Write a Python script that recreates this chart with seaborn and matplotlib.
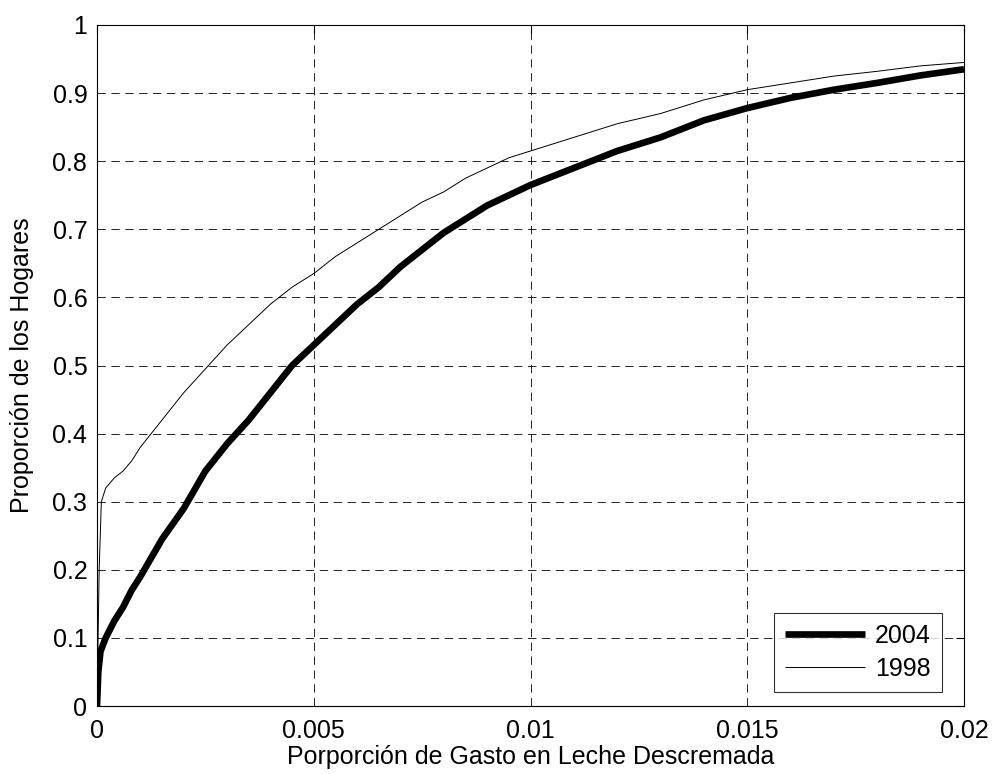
import matplotlib
matplotlib.use("Agg")
import matplotlib.pyplot as plt
import seaborn as sns
import pandas as pd

# Cumulative share of households by skim-milk expenditure share
x_2004 = [0, 0.00003, 0.00008, 0.0002, 0.0004, 0.0006, 0.0008, 0.001, 0.0015, 0.002,
          0.0025, 0.003, 0.0035, 0.004, 0.0045, 0.005, 0.0055, 0.006, 0.0065, 0.007,
          0.0075, 0.008, 0.0085, 0.009, 0.0095, 0.01, 0.011, 0.012, 0.013, 0.014,
          0.015, 0.016, 0.017, 0.018, 0.019, 0.02]
y_2004 = [0, 0.05, 0.08, 0.10, 0.125, 0.145, 0.17, 0.19, 0.245, 0.29,
          0.345, 0.385, 0.42, 0.46, 0.50, 0.53, 0.56, 0.59, 0.615, 0.645,
          0.67, 0.695, 0.715, 0.735, 0.75, 0.765, 0.79, 0.815, 0.835, 0.86,
          0.878, 0.893, 0.905, 0.915, 0.926, 0.935]

x_1998 = [0, 0.00005, 0.0001, 0.0002, 0.0004, 0.0006, 0.0008, 0.001, 0.0015, 0.002,
          0.0025, 0.003, 0.0035, 0.004, 0.0045, 0.005, 0.0055, 0.006, 0.0065, 0.007,
          0.0075, 0.008, 0.0085, 0.009, 0.0095, 0.01, 0.011, 0.012, 0.013, 0.014,
          0.015, 0.016, 0.017, 0.018, 0.019, 0.02]
y_1998 = [0, 0.20, 0.30, 0.32, 0.335, 0.345, 0.36, 0.38, 0.42, 0.46,
          0.495, 0.53, 0.56, 0.59, 0.615, 0.635, 0.66, 0.68, 0.70, 0.72,
          0.74, 0.755, 0.775, 0.79, 0.805, 0.815, 0.835, 0.855, 0.87, 0.89,
          0.905, 0.915, 0.925, 0.932, 0.94, 0.945]

x_ticks = [0, 0.005, 0.01, 0.015, 0.02]
x_tick_labels = ["0", "0.005", "0.01", "0.015", "0.02"]
y_ticks = [0, 0.1, 0.2, 0.3, 0.4, 0.5, 0.6, 0.7, 0.8, 0.9, 1]
y_tick_labels = ["0", "0.1", "0.2", "0.3", "0.4", "0.5", "0.6", "0.7", "0.8", "0.9", "1"]

sns.set_style("white")
plt.rcParams["font.family"] = ["Liberation Sans", "DejaVu Sans"]
plt.rcParams["lines.scale_dashes"] = False
plt.rcParams["text.color"] = "black"
plt.rcParams["axes.labelcolor"] = "black"
plt.rcParams["lines.solid_capstyle"] = "butt"

FS = 18

df04 = pd.DataFrame({"x": x_2004, "y": y_2004})
df98 = pd.DataFrame({"x": x_1998, "y": y_1998})

fig = plt.figure(figsize=(9.93, 7.74), dpi=100)
ax = fig.add_axes([97 / 993, 1 - 706 / 774, (964 - 97) / 993, (706 - 25) / 774])

sns.lineplot(data=df04, x="x", y="y", ax=ax, color="black", linewidth=4.8,
             label="2004", estimator=None, sort=False)
sns.lineplot(data=df98, x="x", y="y", ax=ax, color="black", linewidth=0.7,
             label="1998", estimator=None, sort=False)

ax.set_xlim(0, 0.02)
ax.set_ylim(0, 1)
ax.set_xticks(x_ticks)
ax.set_xticklabels(x_tick_labels)
ax.set_yticks(y_ticks)
ax.set_yticklabels(y_tick_labels)
ax.tick_params(direction="in", length=6, width=0.8, top=True, right=True,
               labelsize=FS, colors="black")
ax.tick_params(axis="y", pad=7)
ax.tick_params(axis="x", pad=9)
ax.grid(True, color="black", linestyle=(0, (6, 4)), linewidth=0.6)
for s in ax.spines.values():
    s.set_color("black")
    s.set_linewidth(0.8)

ax.set_xlabel("Porporción de Gasto en Leche Descremada", fontsize=FS, labelpad=2)
ax.set_ylabel("Proporción de los Hogares", fontsize=FS, labelpad=13)

leg = ax.legend(loc="lower right", fontsize=FS, frameon=True, fancybox=False,
                edgecolor="black", handlelength=3.2, handletextpad=0.4,
                borderpad=0.45, labelspacing=0.35, borderaxespad=0,
                bbox_to_anchor=(0.9746, 0.0206))
leg.get_frame().set_linewidth(0.8)

fig.savefig("out.png", dpi=100)
